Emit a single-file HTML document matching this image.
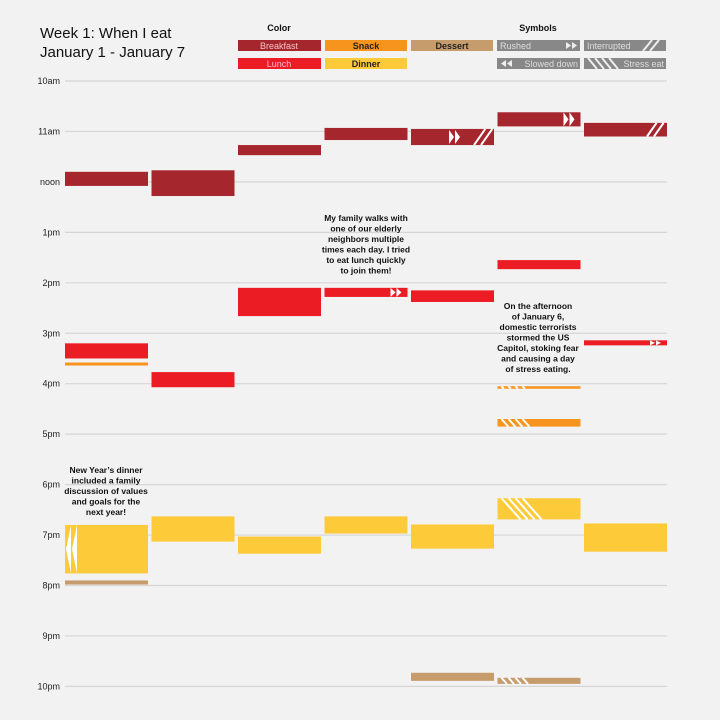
<!DOCTYPE html>
<html><head><meta charset="utf-8"><style>
html,body{margin:0;padding:0;background:#f2f2f2;}
svg{display:block;font-family:"Liberation Sans",sans-serif;}
</style></head><body>
<svg id="chart" width="720" height="720" viewBox="0 0 720 720">
<rect width="720" height="720" fill="#f2f2f2"/>
<text x="40" y="38" font-size="15" fill="#111">Week 1: When I eat</text>
<text x="40" y="57" font-size="15" fill="#111">January 1 - January 7</text>
<g font-size="9" text-anchor="middle" font-weight="bold">
<text x="279" y="31" fill="#111">Color</text>
<text x="538" y="31" fill="#111">Symbols</text>
<g><rect x="238" y="40" width="83" height="11" fill="#a6262e"/><text x="279" y="49" fill="#f4c0c0" font-weight="normal">Breakfast</text></g>
<g><rect x="325" y="40" width="82" height="11" fill="#f7941d"/><text x="366" y="49" fill="#222">Snack</text></g>
<g><rect x="411" y="40" width="82" height="11" fill="#c69c6d"/><text x="452" y="49" fill="#222">Dessert</text></g>
<g><rect x="238" y="58" width="83" height="11" fill="#ec1c24"/><text x="279" y="67" fill="#fbd" font-weight="normal">Lunch</text></g>
<g><rect x="325" y="58" width="82" height="11" fill="#fdcb3a"/><text x="366" y="67" fill="#222">Dinner</text></g>
<g><rect x="497" y="40" width="83" height="11" fill="#888"/><text x="500" y="49" fill="#ddd" font-weight="normal" text-anchor="start">Rushed</text><polygon points="566,42 571,45.5 566,49" fill="#eee"/><polygon points="572,42 577,45.5 572,49" fill="#eee"/></g>
<g><rect x="584" y="40" width="82" height="11" fill="#888"/><text x="587" y="49" fill="#ddd" font-weight="normal" text-anchor="start">Interrupted</text><line x1="643" y1="51" x2="652" y2="40" stroke="#eee" stroke-width="2"/><line x1="650" y1="51" x2="659" y2="40" stroke="#eee" stroke-width="2"/></g>
<g><rect x="497" y="58" width="83" height="11" fill="#888"/><text x="578" y="67" fill="#ddd" font-weight="normal" text-anchor="end">Slowed down</text><polygon points="506,60 501,63.5 506,67" fill="#eee"/><polygon points="512,60 507,63.5 512,67" fill="#eee"/></g>
<g><rect x="584" y="58" width="82" height="11" fill="#888"/><text x="664" y="67" fill="#ddd" font-weight="normal" text-anchor="end">Stress eat</text><g stroke="#eee" stroke-width="2"><line x1="588" y1="58" x2="597" y2="69"/><line x1="595" y1="58" x2="604" y2="69"/><line x1="602" y1="58" x2="611" y2="69"/><line x1="609" y1="58" x2="618" y2="69"/></g></g>
</g>
<g id="axis"></g>
<g id="marks"></g>
<g font-size="8.5" font-weight="bold" fill="#111" text-anchor="middle">
<text x="106" y="473"><tspan x="106">New Year’s dinner</tspan><tspan x="106" dy="10.5">included a family</tspan><tspan x="106" dy="10.5">discussion of values</tspan><tspan x="106" dy="10.5">and goals for the</tspan><tspan x="106" dy="10.5">next year!</tspan></text>
<text x="366" y="221"><tspan x="366">My family walks with</tspan><tspan x="366" dy="10.5">one of our elderly</tspan><tspan x="366" dy="10.5">neighbors multiple</tspan><tspan x="366" dy="10.5">times each day. I tried</tspan><tspan x="366" dy="10.5">to eat lunch quickly</tspan><tspan x="366" dy="10.5">to join them!</tspan></text>
<text x="538" y="309"><tspan x="538">On the afternoon</tspan><tspan x="538" dy="10.5">of January 6,</tspan><tspan x="538" dy="10.5">domestic terrorists</tspan><tspan x="538" dy="10.5">stormed the US</tspan><tspan x="538" dy="10.5">Capitol, stoking fear</tspan><tspan x="538" dy="10.5">and causing a day</tspan><tspan x="538" dy="10.5">of stress eating.</tspan></text>
</g>
</svg>
<script>
const hourTicks = [10,11,12,13,14,15,16,17,18,19,20,21,22];
const tickLabels = ["10am","11am","noon","1pm","2pm","3pm","4pm","5pm","6pm","7pm","8pm","9pm","10pm"];
const mealDays = [1,2,3,4,5,6,7, 1,2,3,4,5,6,7, 1,6,6, 1,2,3,4,5,6,7, 1,5,6];
const mealTypes = ["breakfast","breakfast","breakfast","breakfast","breakfast","breakfast","breakfast",
 "lunch","lunch","lunch","lunch","lunch","lunch","lunch",
 "snack","snack","snack",
 "dinner","dinner","dinner","dinner","dinner","dinner","dinner",
 "dessert","dessert","dessert"];
const mealStarts = [11.8,11.77,11.27,10.93,10.95,10.62,10.83, 15.2,15.77,14.1,14.1,14.15,13.55,15.14, 15.58,16.05,16.7, 18.8,18.63,19.03,18.63,18.79,18.27,18.77, 19.9,21.73,21.83];
const mealEnds   = [12.08,12.28,11.47,11.17,11.27,10.9,11.1, 15.5,16.07,14.66,14.28,14.38,13.73,15.24, 15.64,16.1,16.85, 19.76,19.13,19.37,18.97,19.27,18.69,19.33, 19.98,21.89,21.95];
const mealSymbols = ["","","","","rushed,interrupted","rushed","interrupted", "","","","rushed","","","rushed", "","stress","stress", "slowed","","","","","stress","", "","","stress"];
const colors = {breakfast:"#a6262e",lunch:"#ec1c24",snack:"#f7941d",dinner:"#fdcb3a",dessert:"#c69c6d"};
const NS="http://www.w3.org/2000/svg";
const yScale = h => 81 + (h-10)*50.45;
const xScale = d => 65 + (d-1)*86.5;
const colW = 83;
const ax=document.getElementById('axis');
hourTicks.forEach((h,i)=>{
  const l=document.createElementNS(NS,'line');
  l.setAttribute('x1',65);l.setAttribute('x2',667);l.setAttribute('y1',yScale(h));l.setAttribute('y2',yScale(h));
  l.setAttribute('stroke','#d6d6d6');l.setAttribute('stroke-width','1.2');
  
  
  ax.appendChild(l);
  const t=document.createElementNS(NS,'text');
  t.setAttribute('x',60);t.setAttribute('y',yScale(h)+3);t.setAttribute('text-anchor','end');
  t.setAttribute('font-size','9');t.setAttribute('fill','#222');t.textContent=tickLabels[i];
  
  
  ax.appendChild(t);
});
const mk=document.getElementById('marks');
function el(tag,attrs,parent){const e=document.createElementNS(NS,tag);for(const k in attrs)e.setAttribute(k,attrs[k]);parent.appendChild(e);return e;}
mealStarts.forEach((s,i)=>{
  const g=document.createElementNS(NS,'g');
  
  
  mk.appendChild(g);
  const x=xScale(mealDays[i]), y=yScale(s), h=yScale(mealEnds[i])-y, w=colW;
  el('rect',{x:x,y:y,width:w,height:h,fill:colors[mealTypes[i]]},g);
  const syms=mealSymbols[i]?mealSymbols[i].split(','):[];
  const hasInt=syms.includes('interrupted');
  const th=Math.min(h,14), cy=y+h/2;
  syms.forEach(sym=>{
    if(sym==='rushed'){
      const ex=hasInt? x+w-40 : x+w-12;
      el('polygon',{points:`${ex-5},${cy-th/2} ${ex},${cy} ${ex-5},${cy+th/2}`,fill:'#fff'},g);
      el('polygon',{points:`${ex+1},${cy-th/2} ${ex+6},${cy} ${ex+1},${cy+th/2}`,fill:'#fff'},g);
    } else if(sym==='interrupted'){
      el('line',{x1:x+w-20,y1:y+h,x2:x+w-20+h*0.7,y2:y,stroke:'#fff','stroke-width':2},g);
      el('line',{x1:x+w-13,y1:y+h,x2:x+w-13+h*0.7,y2:y,stroke:'#fff','stroke-width':2},g);
    } else if(sym==='slowed'){
      el('polygon',{points:`${x+6},${y} ${x+1},${cy} ${x+6},${y+h}`,fill:'#fff'},g);
      el('polygon',{points:`${x+12},${y} ${x+7},${cy} ${x+12},${y+h}`,fill:'#fff'},g);
    } else if(sym==='stress'){
      for(let k=0;k<4;k++){
        el('line',{x1:x+4+k*7,y1:y,x2:x+4+k*7+h*0.9,y2:y+h,stroke:'#fff','stroke-width':2},g);
      }
    }
  });
});
</script>
</body></html>
